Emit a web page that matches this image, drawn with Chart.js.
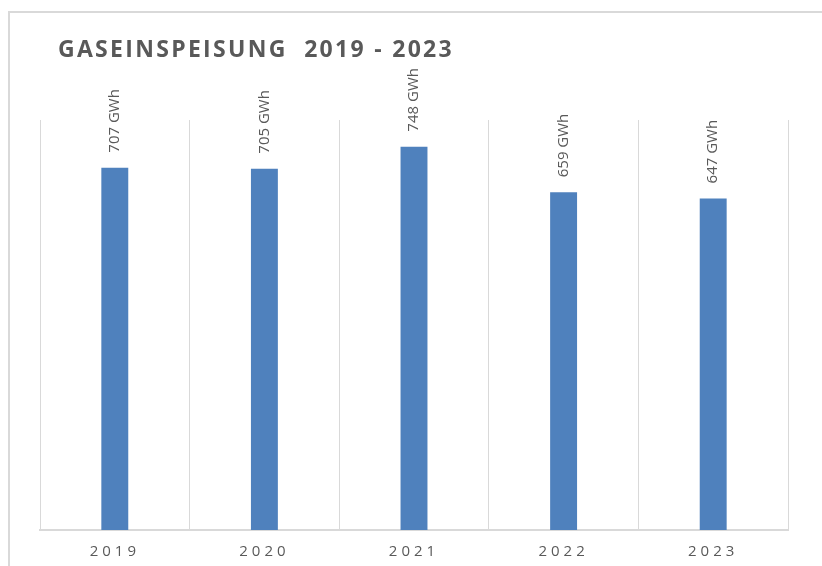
<!DOCTYPE html>
<html>
<head>
<meta charset="utf-8">
<script src="https://cdn.jsdelivr.net/npm/chart.js@4"></script>
<style>
  html, body { margin: 0; padding: 0; background: #fff; }
  body { width: 822px; height: 566px; overflow: hidden; position: relative; }
  #frame {
    position: absolute; left: 8px; top: 11px; width: 900px; height: 700px;
    border: 2px solid #d9d9d9; box-sizing: border-box;
  }
  #wrap { position: absolute; left: 0; top: 0; width: 822px; height: 566px; }
</style>
</head>
<body>
<div id="frame"></div>
<div id="wrap"><canvas id="chart" width="822" height="566"></canvas></div>
<script>
// --- data ---
const years = ["2019", "2020", "2021", "2022", "2023"];
const feedIn = [707, 705, 748, 659, 647];
const unit = "GWh";
const chartTitle = "GASEINSPEISUNG  2019 - 2023";

const grey = "#595959";
const barBlue = "#4f81bd";
const lineGrey = "#d9d9d9";

// letter spacing for the axis labels, bar labels are drawn later without it
const spacingPlugin = {
  id: "spacing",
  beforeDraw(chart) {
    chart.ctx.letterSpacing = "4px";
  },
  beforeDatasetsDraw(chart) {
    chart.ctx.letterSpacing = "0px";
  }
};

// title + rotated value labels
const labelPlugin = {
  id: "labels",
  afterDatasetsDraw(chart) {
    const ctx = chart.ctx;
    const meta = chart.getDatasetMeta(0);
    ctx.save();
    ctx.fillStyle = grey;
    ctx.font = "15px 'Open Sans'";
    ctx.textAlign = "left";
    ctx.textBaseline = "middle";
    meta.data.forEach((bar, i) => {
      ctx.save();
      ctx.translate(bar.x, bar.y - 15);
      ctx.rotate(-Math.PI / 2);
      ctx.fillText(feedIn[i] + " " + unit, 0, 0);
      ctx.restore();
    });
    ctx.restore();

    ctx.save();
    ctx.letterSpacing = "2.3px";
    ctx.fillStyle = grey;
    ctx.font = "bold 23px 'Open Sans'";
    ctx.textAlign = "left";
    ctx.textBaseline = "alphabetic";
    ctx.fillText(chartTitle, 58, 57);
    ctx.restore();
  }
};

const canvas = document.getElementById("chart");
new Chart(canvas, {
  type: "bar",
  data: {
    labels: years,
    datasets: [{
      label: "Gaseinspeisung",
      data: feedIn,
      backgroundColor: barBlue,
      borderWidth: 0,
      barPercentage: 0.18,
      categoryPercentage: 1
    }]
  },
  options: {
    responsive: false,
    animation: false,
    layout: { padding: { left: 40, right: 34, top: 120, bottom: 5 } },
    plugins: {
      legend: { display: false },
      title: { display: false },
      tooltip: { enabled: false }
    },
    scales: {
      x: {
        offset: true,
        grid: { display: true, offset: true, color: lineGrey, lineWidth: 1, drawTicks: false },
        border: { display: true, color: lineGrey, width: 2 },
        ticks: { color: grey, font: { family: "'Open Sans'", size: 15 }, padding: 13 },
        afterFit(scale) { scale.height = 31; }
      },
      y: {
        display: false,
        min: 0,
        max: 800
      }
    }
  },
  plugins: [spacingPlugin, labelPlugin]
});
</script>
</body>
</html>
